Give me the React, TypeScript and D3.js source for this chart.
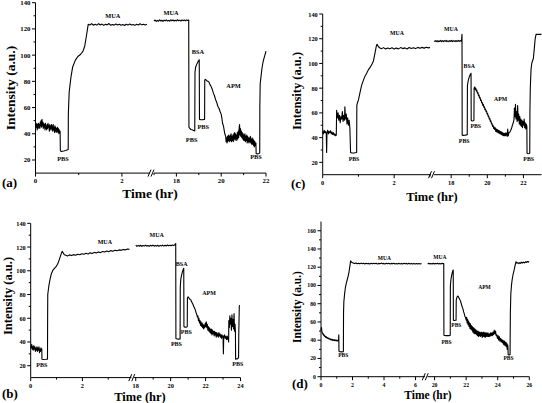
import * as d3 from 'd3';

type Pt = [number, number];
type Note = [string, number, number]; // text, time (hr), intensity

// ---- (a) ----
const aLeft: Pt[] = [
  [0, 44], [0.01, 47], [0.02, 45], [0.03, 48], [0.04, 43], [0.05, 47], [0.06, 44], [0.07, 48], [0.08, 45], [0.09, 47],
  [0.1, 44], [0.11, 49], [0.12, 46], [0.13, 50], [0.14, 45], [0.15, 51], [0.16, 46], [0.17, 49], [0.18, 44], [0.19, 48],
  [0.2, 45], [0.21, 47], [0.22, 43], [0.23, 48], [0.24, 44], [0.25, 46], [0.26, 43], [0.27, 47], [0.28, 44], [0.29, 48],
  [0.3, 45], [0.31, 46], [0.32, 42], [0.33, 47], [0.34, 43], [0.35, 46], [0.36, 44], [0.37, 47], [0.38, 43], [0.39, 46],
  [0.4, 42], [0.41, 47], [0.42, 43], [0.43, 45], [0.44, 41], [0.45, 46], [0.46, 42], [0.47, 45], [0.48, 41], [0.49, 44],
  [0.5, 42], [0.51, 45], [0.52, 41], [0.53, 44], [0.54, 40], [0.55, 43], [0.56, 41], [0.57, 42],
  [0.575, 27], [0.6, 26.5], [0.65, 26.8], [0.7, 27.3], [0.757, 28],
  [0.76, 55], [0.78, 72], [0.82, 83], [0.86, 91], [0.92, 96], [0.98, 99], [1.04, 100.5], [1.1, 103], [1.14, 107], [1.18, 115], [1.22, 123.5],
  [1.26, 123], [1.3, 124], [1.34, 122.8], [1.38, 123.6], [1.42, 122.9], [1.46, 124], [1.5, 123], [1.54, 123.7], [1.58, 122.7],
  [1.62, 123.5], [1.66, 123.1], [1.7, 124.1], [1.74, 122.8], [1.78, 123.4], [1.82, 122.9], [1.86, 123.8], [1.9, 123], [1.94, 123.6],
  [1.98, 122.8], [2.02, 123.3], [2.06, 122.6], [2.1, 123.5], [2.14, 122.9], [2.18, 123.8], [2.22, 123], [2.26, 123.4], [2.3, 122.7],
  [2.34, 123.5], [2.38, 123], [2.42, 123.9], [2.46, 123.1], [2.5, 123.6], [2.54, 123], [2.58, 123.5],
];
const aRight: Pt[] = [
  [17.0, 126], [17.05, 126.8], [17.1, 125.7], [17.15, 126.5], [17.2, 125.9], [17.25, 126.9], [17.3, 126], [17.35, 126.6],
  [17.4, 125.8], [17.45, 126.7], [17.5, 126.1], [17.55, 126.9], [17.6, 126], [17.65, 126.5], [17.7, 125.9], [17.75, 127],
  [17.8, 126.2], [17.85, 126.8], [17.9, 126], [17.95, 126.6], [18.0, 126.1], [18.05, 127], [18.1, 126.2], [18.15, 126.7],
  [18.2, 126], [18.25, 126.9], [18.3, 126.3], [18.35, 126.8], [18.4, 126.1], [18.45, 126.9], [18.5, 126.4], [18.55, 126.8],
  [18.56, 45], [18.6, 44], [18.65, 43.3], [18.7, 43], [18.75, 42.6], [18.8, 42.3], [18.82, 42.2],
  [18.83, 87], [18.86, 91], [18.92, 93.5], [18.98, 95.5], [19.02, 96.5], [19.03, 51], [19.1, 50.7], [19.18, 50.8], [19.26, 51],
  [19.265, 81], [19.3, 81.5], [19.35, 80.5], [19.4, 80], [19.45, 79.5], [19.5, 77.5], [19.55, 76], [19.6, 74], [19.65, 71],
  [19.7, 69], [19.75, 66], [19.8, 64], [19.85, 61], [19.9, 59.5], [19.95, 57], [20.0, 55], [20.03, 52], [20.06, 48], [20.1, 46],
  [20.13, 43], [20.16, 40], [20.2, 38], [20.22, 34], [20.24, 37], [20.26, 33], [20.28, 38], [20.3, 34], [20.32, 39], [20.34, 35],
  [20.36, 38], [20.38, 34], [20.4, 39], [20.42, 35], [20.44, 40], [20.46, 34], [20.48, 38], [20.5, 35], [20.52, 39], [20.54, 34],
  [20.56, 40], [20.58, 36], [20.6, 41], [20.62, 35], [20.64, 40], [20.66, 36], [20.68, 39], [20.7, 35], [20.72, 41], [20.74, 36],
  [20.76, 42], [20.78, 37], [20.8, 44], [20.82, 47], [20.84, 39], [20.86, 44], [20.88, 38], [20.9, 42], [20.92, 37], [20.94, 41],
  [20.96, 36], [20.98, 40], [21.0, 35], [21.02, 39], [21.04, 35], [21.06, 40], [21.08, 34], [21.1, 38], [21.12, 35], [21.14, 39],
  [21.16, 33], [21.18, 38], [21.2, 34], [21.22, 37], [21.24, 33], [21.26, 37], [21.28, 34], [21.3, 38], [21.32, 33], [21.34, 36],
  [21.36, 32], [21.38, 37], [21.4, 32], [21.42, 36], [21.44, 31], [21.46, 35], [21.48, 30], [21.5, 34], [21.52, 31], [21.55, 33],
  [21.56, 25], [21.62, 24.6], [21.68, 25], [21.72, 25.3],
  [21.725, 60], [21.74, 78], [21.78, 84], [21.82, 90], [21.86, 94], [21.9, 97], [21.95, 100], [22.0, 103],
];
const aNotes: Note[] = [
  ['MUA', 1.79, 130.6], ['MUA', 17.76, 132.4], ['BSA', 18.96, 102.5], ['APM', 20.55, 76.8],
  ['PBS', 0.635, 21.5], ['PBS', 18.68, 36], ['PBS', 19.2, 45.9], ['PBS', 21.55, 23],
];

// ---- (b) ----
const bLeft: Pt[] = [
  [0, 37], [0.02, 35], [0.04, 38], [0.06, 34], [0.08, 36], [0.1, 33], [0.12, 37], [0.14, 34], [0.16, 36], [0.18, 32],
  [0.2, 35], [0.22, 33], [0.24, 36], [0.26, 32], [0.28, 35], [0.3, 33], [0.32, 36], [0.34, 31], [0.36, 34], [0.38, 32],
  [0.4, 35], [0.42, 33], [0.43, 34],
  [0.435, 25.5], [0.5, 25.3], [0.58, 25.4], [0.65, 25.6],
  [0.655, 60], [0.66, 80], [0.7, 87], [0.75, 93], [0.8, 97.5], [0.86, 100.5], [0.92, 102], [0.98, 103.5], [1.04, 105.5],
  [1.1, 109], [1.16, 113], [1.22, 116.5], [1.26, 115], [1.3, 113.5], [1.36, 113], [1.42, 112.5],
  [1.5, 113.4], [1.58, 112.8], [1.66, 113.6], [1.74, 113.1], [1.82, 114], [1.9, 113.5], [1.98, 114.3], [2.06, 113.9],
  [2.14, 114.8], [2.22, 114.2], [2.3, 115.1], [2.38, 114.6], [2.46, 115.5], [2.54, 115], [2.62, 115.9], [2.7, 115.3],
  [2.78, 116.2], [2.86, 115.8], [2.94, 116.6], [3.02, 116.1], [3.1, 117], [3.18, 116.5], [3.26, 117.3], [3.34, 116.9],
  [3.42, 117.6], [3.5, 117.2], [3.58, 118], [3.66, 117.6], [3.74, 118.3], [3.82, 118],
];
const bRight: Pt[] = [
  [18.0, 121.6], [18.07, 120.6], [18.14, 121.4], [18.21, 120.7], [18.28, 121.5], [18.35, 120.6], [18.42, 121.3], [18.49, 120.8],
  [18.56, 121.6], [18.63, 120.7], [18.7, 121.4], [18.77, 120.6], [18.84, 121.5], [18.91, 120.9], [18.98, 121.6], [19.05, 120.7],
  [19.12, 121.3], [19.19, 120.8], [19.26, 121.5], [19.33, 120.6], [19.4, 121.4], [19.47, 120.9], [19.54, 121.6], [19.61, 120.8],
  [19.68, 121.5], [19.75, 120.9], [19.82, 121.7], [19.89, 121], [19.96, 121.6], [20.03, 121.1], [20.1, 121.8], [20.17, 121.2],
  [20.24, 121.9], [20.29, 123],
  [20.3, 43], [20.38, 42.5], [20.46, 42.4], [20.54, 42.6],
  [20.55, 86], [20.58, 93], [20.63, 96.5], [20.68, 99.5], [20.73, 101.5], [20.75, 102],
  [20.76, 53], [20.82, 52.4], [20.88, 52.5], [20.95, 52.8],
  [20.96, 77], [21.0, 78], [21.05, 77], [21.1, 76], [21.15, 75.5], [21.2, 74], [21.25, 72.5], [21.3, 71], [21.35, 69],
  [21.4, 67.5], [21.45, 65], [21.5, 63], [21.53, 61], [21.56, 62], [21.59, 58], [21.62, 60], [21.65, 56], [21.68, 58],
  [21.71, 54], [21.74, 57], [21.77, 53], [21.8, 56], [21.83, 52], [21.86, 55], [21.89, 51], [21.92, 54], [21.95, 52],
  [21.98, 56], [22.01, 53], [22.04, 57], [22.07, 52], [22.1, 55], [22.13, 50], [22.16, 53], [22.19, 49], [22.22, 52],
  [22.25, 48], [22.28, 51], [22.31, 47], [22.34, 51], [22.37, 46], [22.4, 50], [22.43, 47], [22.46, 49], [22.49, 45],
  [22.52, 49], [22.55, 46], [22.58, 48], [22.61, 44], [22.64, 48], [22.67, 45], [22.7, 47], [22.73, 44], [22.76, 48],
  [22.79, 45], [22.82, 47], [22.85, 44], [22.88, 46], [22.91, 43], [22.94, 46], [22.97, 44], [23.0, 45], [23.02, 30],
  [23.04, 44], [23.08, 46], [23.12, 43], [23.16, 45], [23.2, 42], [23.24, 45], [23.28, 42], [23.31, 44], [23.32, 40],
  [23.33, 58], [23.36, 52], [23.39, 62], [23.42, 55], [23.45, 60], [23.48, 50], [23.51, 63], [23.54, 53], [23.57, 59],
  [23.6, 51], [23.63, 64], [23.66, 49], [23.69, 55], [23.71, 48],
  [23.72, 25.5], [23.78, 25.8], [23.84, 26], [23.89, 27],
  [23.9, 45], [23.93, 70], [23.95, 71],
];
const bNotes: Note[] = [
  ['MUA', 2.87, 124], ['MUA', 19.2, 129.8], ['BSA', 20.63, 106], ['APM', 22.2, 81],
  ['PBS', 0.43, 20.6], ['PBS', 20.33, 38.5], ['PBS', 20.9, 48.2], ['PBS', 23.85, 21.3],
];

// ---- (c) ----
const cLeft: Pt[] = [
  [0, 45], [0.02, 43], [0.04, 46], [0.06, 44], [0.08, 45], [0.1, 43], [0.11, 28], [0.12, 44], [0.14, 46], [0.16, 43],
  [0.18, 45], [0.2, 44], [0.22, 45.5], [0.24, 43], [0.26, 44.5], [0.28, 42.5], [0.3, 44], [0.32, 42], [0.34, 43],
  [0.36, 41.5], [0.38, 42],
  [0.39, 62], [0.41, 56], [0.43, 60], [0.45, 54], [0.47, 58], [0.49, 52], [0.51, 57], [0.53, 55], [0.55, 61], [0.57, 53],
  [0.59, 58], [0.61, 54], [0.62, 65], [0.64, 55], [0.66, 59], [0.68, 51], [0.7, 56], [0.72, 50], [0.74, 54], [0.76, 48],
  [0.78, 28], [0.82, 27.5], [0.88, 27.6], [0.95, 27.9],
  [0.955, 66], [0.97, 68], [1.0, 70.5], [1.04, 76], [1.09, 82.5], [1.14, 86.5], [1.18, 89.5], [1.23, 92], [1.28, 95],
  [1.33, 97], [1.38, 99.5], [1.42, 102], [1.46, 108], [1.5, 114], [1.52, 115.5], [1.56, 113.5], [1.6, 112.5], [1.65, 112],
  [1.7, 112.8], [1.76, 111.7], [1.82, 112.5], [1.88, 111.9], [1.94, 112.7], [2.0, 111.6], [2.06, 112.4], [2.12, 111.8],
  [2.18, 112.8], [2.24, 112], [2.3, 112.6], [2.36, 111.7], [2.42, 112.9], [2.48, 112.1], [2.54, 112.7], [2.6, 112],
  [2.66, 113], [2.72, 112.3], [2.78, 113], [2.84, 112.4], [2.9, 113.1], [2.96, 112.6], [3.0, 113],
];
const cRight: Pt[] = [
  [17.07, 117.6], [17.12, 118.5], [17.17, 117.7], [17.22, 118.4], [17.27, 117.5], [17.32, 118.3], [17.37, 117.8],
  [17.42, 118.6], [17.47, 117.6], [17.52, 118.4], [17.57, 117.7], [17.62, 118.5], [17.67, 117.9], [17.72, 118.6],
  [17.77, 117.7], [17.82, 118.3], [17.87, 117.6], [17.92, 118.5], [17.97, 117.8], [18.02, 118.6], [18.07, 117.7],
  [18.12, 118.4], [18.17, 117.8], [18.22, 118.5], [18.27, 117.6], [18.32, 118.4], [18.37, 117.8], [18.42, 118.6],
  [18.47, 117.9], [18.52, 118.5], [18.57, 118], [18.6, 123.5],
  [18.61, 42], [18.68, 41.8], [18.76, 41.9], [18.85, 42.2], [18.89, 42.3],
  [18.9, 82], [18.93, 85], [18.97, 87.5], [19.01, 89.5], [19.05, 90.8], [19.1, 92],
  [19.11, 54], [19.16, 53.5], [19.21, 53.6], [19.26, 53.8],
  [19.27, 80], [19.3, 81], [19.33, 79], [19.36, 80], [19.39, 77.5], [19.42, 78.5], [19.45, 76], [19.48, 76.5], [19.51, 74],
  [19.54, 74.5], [19.57, 72], [19.6, 72.5], [19.63, 70], [19.66, 70.5], [19.69, 68], [19.72, 68.5], [19.75, 66], [19.78, 67],
  [19.81, 64.5], [19.84, 65], [19.87, 62.5], [19.9, 63], [19.93, 61], [19.96, 61.5], [19.99, 59], [20.02, 59.5], [20.05, 57],
  [20.08, 57.5], [20.11, 55], [20.14, 55.5], [20.17, 53], [20.2, 53.5], [20.23, 51], [20.26, 51.5], [20.29, 49],
  [20.32, 50], [20.35, 47.5], [20.38, 48.5], [20.41, 46.5], [20.44, 48], [20.47, 45], [20.5, 47], [20.53, 44.5],
  [20.56, 46.5], [20.59, 44], [20.62, 46], [20.65, 43.5], [20.68, 45.5], [20.71, 43], [20.74, 45], [20.77, 42.5],
  [20.8, 44.5], [20.83, 42], [20.86, 44], [20.89, 41.5], [20.92, 43.5], [20.95, 41.5], [20.98, 43.5], [21.01, 41.5],
  [21.04, 44], [21.07, 42], [21.1, 41], [21.13, 47], [21.16, 41.5], [21.2, 44], [21.25, 44.5], [21.3, 46], [21.35, 48],
  [21.4, 50.5], [21.44, 52], [21.48, 55],
  [21.5, 64], [21.53, 57], [21.56, 67], [21.59, 55], [21.62, 61], [21.65, 53], [21.68, 66], [21.71, 54], [21.74, 59],
  [21.77, 51], [21.8, 57], [21.83, 50], [21.86, 55], [21.89, 49], [21.92, 54], [21.95, 48], [21.98, 53], [22.01, 50],
  [22.04, 55], [22.07, 48], [22.1, 52], [22.13, 47], [22.16, 51], [22.19, 49],
  [22.2, 27.3], [22.26, 27], [22.32, 27.2], [22.35, 27.5],
  [22.36, 62], [22.38, 80], [22.42, 95], [22.46, 100], [22.5, 102], [22.55, 104], [22.6, 112], [22.65, 120], [22.7, 123.5],
  [22.78, 123.6], [22.86, 123.5], [22.94, 123.6], [23.0, 123.5],
];
const cNotes: Note[] = [
  ['MUA', 2.08, 124.6], ['MUA', 17.99, 127.7], ['BSA', 19.0, 97.9], ['APM', 20.74, 71],
  ['PBS', 0.876, 22.6], ['PBS', 18.72, 37.5], ['PBS', 19.36, 49.4], ['PBS', 22.29, 22.6],
];

// ---- (d) ----
const dLeft: Pt[] = [
  [0, 51], [0.03, 54], [0.06, 49], [0.09, 48], [0.12, 46.5], [0.15, 47], [0.18, 45], [0.21, 45.5], [0.24, 44], [0.27, 44.5],
  [0.3, 43], [0.33, 44], [0.36, 42.5], [0.39, 43], [0.42, 42], [0.45, 42.5], [0.48, 41.5], [0.51, 42], [0.54, 41],
  [0.57, 41.5], [0.6, 40.5], [0.63, 41.2], [0.66, 40.2], [0.69, 41], [0.72, 40], [0.75, 40.6], [0.78, 39.8], [0.81, 40.5],
  [0.84, 39.6], [0.87, 40.3], [0.9, 39.5], [0.93, 40.2], [0.96, 39.4], [0.99, 40], [1.02, 39.2], [1.05, 39.8], [1.08, 39.3],
  [1.11, 39.6], [1.13, 46], [1.14, 28],
  [1.2, 27.3], [1.3, 27.2], [1.42, 27.5],
  [1.43, 70], [1.45, 82], [1.5, 91], [1.55, 98], [1.6, 102], [1.66, 106], [1.72, 110], [1.78, 115], [1.83, 121], [1.88, 127],
  [1.94, 125.5], [2.0, 125], [2.06, 124.5],
  [2.14, 124], [2.22, 124.6], [2.3, 123.8], [2.38, 124.4], [2.46, 123.7], [2.54, 124.5], [2.62, 123.9], [2.7, 124.3],
  [2.78, 123.6], [2.86, 124.4], [2.94, 123.8], [3.02, 124.2], [3.1, 123.6], [3.18, 124.4], [3.26, 123.7], [3.34, 124.3],
  [3.42, 123.8], [3.5, 124.4], [3.58, 123.6], [3.66, 124.2], [3.74, 123.7], [3.82, 124.5], [3.9, 123.8], [3.98, 124.2],
  [4.06, 123.6], [4.14, 124.4], [4.22, 123.7], [4.3, 124.3], [4.38, 123.6], [4.46, 124.2], [4.54, 123.7], [4.62, 124.4],
  [4.7, 123.6], [4.78, 124.1], [4.86, 123.5], [4.94, 124.3], [5.02, 123.6], [5.1, 124.2], [5.18, 123.5], [5.26, 124.3],
  [5.34, 123.7], [5.42, 124.2], [5.5, 123.6], [5.58, 124.3], [5.66, 123.5], [5.74, 124.1], [5.82, 123.6], [5.9, 124.2],
  [5.98, 123.5], [6.06, 124.1], [6.14, 123.6], [6.22, 124.2], [6.3, 123.5], [6.38, 124],
];
const dRight: Pt[] = [
  [19.56, 123.6], [19.63, 124.3], [19.7, 123.5], [19.77, 124.2], [19.84, 123.6], [19.91, 124.4], [19.98, 123.5],
  [20.05, 124.2], [20.12, 123.7], [20.19, 124.3], [20.26, 123.5], [20.33, 124.2], [20.4, 123.6], [20.47, 124.3],
  [20.54, 123.7], [20.58, 124],
  [20.59, 45.5], [20.7, 45], [20.8, 45.2], [20.9, 45], [20.99, 45.3],
  [21.0, 100], [21.03, 106], [21.07, 110], [21.11, 113.5], [21.15, 116], [21.18, 117],
  [21.19, 62], [21.25, 61.5], [21.31, 61.8], [21.36, 62],
  [21.37, 84], [21.4, 86], [21.44, 88], [21.48, 88.5], [21.52, 87], [21.56, 86], [21.6, 84.5], [21.64, 83], [21.68, 80.5],
  [21.72, 78], [21.76, 76], [21.8, 74], [21.84, 71], [21.88, 69], [21.92, 66], [21.96, 65],
  [22.0, 62], [22.03, 65], [22.06, 59], [22.09, 63], [22.12, 57], [22.15, 61], [22.18, 55], [22.21, 59], [22.24, 53],
  [22.27, 58], [22.3, 52], [22.33, 56], [22.36, 51], [22.39, 55], [22.42, 49], [22.45, 54], [22.48, 48], [22.51, 53],
  [22.54, 47], [22.57, 52], [22.6, 47], [22.63, 51], [22.66, 46], [22.69, 50], [22.72, 45], [22.75, 50], [22.78, 44],
  [22.81, 49], [22.84, 45], [22.87, 49], [22.9, 44], [22.93, 48], [22.96, 45], [22.99, 49], [23.02, 43], [23.05, 48],
  [23.08, 44], [23.11, 49], [23.14, 44], [23.17, 48], [23.2, 43], [23.23, 48], [23.26, 44], [23.3, 48], [23.34, 44],
  [23.38, 48], [23.42, 44], [23.46, 47], [23.5, 44], [23.54, 48], [23.58, 45], [23.62, 48], [23.66, 45], [23.7, 49],
  [23.74, 46], [23.78, 51], [23.82, 47], [23.86, 50], [23.9, 45], [23.94, 46], [23.98, 42], [24.02, 45], [24.06, 40],
  [24.1, 44], [24.14, 39], [24.18, 42], [24.22, 38], [24.26, 41], [24.3, 37], [24.34, 40], [24.38, 35], [24.42, 39],
  [24.46, 34], [24.5, 38], [24.54, 33], [24.57, 37], [24.6, 30], [24.63, 35], [24.65, 32],
  [24.66, 24], [24.72, 23.8], [24.78, 24.2],
  [24.8, 70], [24.83, 91], [24.87, 100], [24.91, 106], [24.97, 112], [25.04, 117], [25.1, 122], [25.16, 126], [25.22, 124.5],
  [25.28, 125], [25.34, 123.8], [25.4, 125.2], [25.46, 124.3], [25.52, 125.5], [25.58, 124.6], [25.64, 125.6], [25.7, 124.8],
  [25.76, 126], [25.82, 125.2], [25.88, 126.3], [25.94, 125.5], [25.98, 126.5],
];
const dNotes: Note[] = [
  ['MUA', 4.02, 130], ['MUA', 20.33, 131.4], ['APM', 23.16, 98.3],
  ['PBS', 1.41, 23.4], ['PBS', 20.75, 38.4], ['PBS', 21.38, 56.3], ['PBS', 24.68, 20.5],
];

const yTicks140 = [20, 40, 60, 80, 100, 120, 140];
const yMinor140 = [30, 50, 70, 90, 110, 130];
const yTicks160 = [0, 20, 40, 60, 80, 100, 120, 140, 160];
const yMinor160 = [10, 30, 50, 70, 90, 110, 130, 150];

const FONT = '"Liberation Serif", "Times New Roman", serif';

interface PanelSpec {
  tag: string;
  left: Pt[];
  right: Pt[];
  notes: Note[];
  yDomain: [number, number];
  yRange: [number, number];
  yMajor: number[];
  yMinor: number[];
  lDomain: [number, number];
  lRange: [number, number];
  lMajor: number[];
  lMinor: number[];
  rDomain: [number, number];
  rRange: [number, number];
  rMajor: number[];
  rMinor: number[];
  tickSize: number;
  noteSize: number;
  titleSize: number;
  xTitle: [number, number];
  yTitle: [number, number];
  tagPos: [number, number];
}

const panels: PanelSpec[] = [
  {
    tag: '(a)', left: aLeft, right: aRight, notes: aNotes,
    yDomain: [10, 140], yRange: [173.1, 2.7], yMajor: yTicks140, yMinor: yMinor140,
    lDomain: [0, 2.65], lRange: [35.5, 150], lMajor: [0, 2], lMinor: [1],
    rDomain: [17, 22], rRange: [154, 266], rMajor: [18, 20, 22], rMinor: [17, 19, 21],
    tickSize: 6.8, noteSize: 6.3, titleSize: 13.5, xTitle: [150, 198], yTitle: [10, 88], tagPos: [2, 187],
  },
  {
    tag: '(b)', left: bLeft, right: bRight, notes: bNotes,
    yDomain: [10, 140], yRange: [377.6, 223.3], yMajor: yTicks140, yMinor: yMinor140,
    lDomain: [0, 3.9], lRange: [30.7, 131.5], lMajor: [0, 2], lMinor: [1, 3],
    rDomain: [17.9, 24], rRange: [134, 240.5], rMajor: [18, 20, 22, 24], rMinor: [19, 21, 23],
    tickSize: 6.3, noteSize: 6, titleSize: 12.5, xTitle: [140, 401], yTitle: [8, 296], tagPos: [2, 398],
  },
  {
    tag: '(c)', left: cLeft, right: cRight, notes: cNotes,
    yDomain: [10, 140], yRange: [174.7, 14], yMajor: yTicks140, yMinor: yMinor140,
    lDomain: [0, 3.03], lRange: [322.7, 431], lMajor: [0, 2], lMinor: [1, 3],
    rDomain: [17.05, 23], rRange: [434, 541.5], rMajor: [18, 20, 22], rMinor: [19, 21],
    tickSize: 6.3, noteSize: 5.8, titleSize: 12.5, xTitle: [432, 201], yTitle: [297, 91], tagPos: [291, 188],
  },
  {
    tag: '(d)', left: dLeft, right: dRight, notes: dNotes,
    yDomain: [0, 170], yRange: [376.7, 221.6], yMajor: yTicks160, yMinor: yMinor160,
    lDomain: [0, 6.6], lRange: [321, 425], lMajor: [0, 2, 4, 6], lMinor: [1, 3, 5],
    rDomain: [19.55, 26], rRange: [427.5, 529.3], rMajor: [20, 22, 24, 26], rMinor: [21, 23, 25],
    tickSize: 5.8, noteSize: 5.5, titleSize: 11.5, xTitle: [428, 399], yTitle: [297, 307], tagPos: [292, 388],
  },
];

function Panel({ p }: { p: PanelSpec }) {
  const y = d3.scaleLinear().domain(p.yDomain).range(p.yRange);
  const xl = d3.scaleLinear().domain(p.lDomain).range(p.lRange);
  const xr = d3.scaleLinear().domain(p.rDomain).range(p.rRange);
  const lineL = d3.line<Pt>().x(d => xl(d[0])).y(d => y(d[1]));
  const lineR = d3.line<Pt>().x(d => xr(d[0])).y(d => y(d[1]));

  const x0 = p.lRange[0];
  const yBase = p.yRange[0];
  const yTop = p.yRange[1];
  const brk = (p.lRange[1] + p.rRange[0]) / 2;
  const xOf = (t: number) => (t >= p.rDomain[0] ? xr(t) : xl(t));

  const xMajor = [...p.lMajor.map(t => [t, xl(t)]), ...p.rMajor.map(t => [t, xr(t)])];
  const xMinor = [...p.lMinor.map(t => xl(t)), ...p.rMinor.map(t => xr(t))];

  return (
    <g fontFamily={FONT} fontWeight="bold" fill="#000">
      {/* axes */}
      <g stroke="#000" strokeWidth={1} fill="none">
        <line x1={x0} x2={x0} y1={yBase} y2={yTop} />
        <line x1={x0} x2={p.lRange[1]} y1={yBase} y2={yBase} />
        <line x1={p.rRange[0]} x2={p.rRange[1]} y1={yBase} y2={yBase} />
        {p.yMajor.map(v => <line key={'ym' + v} x1={x0 - 3.5} x2={x0} y1={y(v)} y2={y(v)} />)}
        {p.yMinor.map(v => <line key={'yn' + v} x1={x0 - 2} x2={x0} y1={y(v)} y2={y(v)} />)}
        {xMajor.map(([t, px]) => <line key={'xm' + t} x1={px} x2={px} y1={yBase} y2={yBase + 3.5} />)}
        {xMinor.map((px, i) => <line key={'xn' + i} x1={px} x2={px} y1={yBase} y2={yBase + 2} />)}
        {/* axis break */}
        <line x1={brk - 4} x2={brk - 1} y1={yBase + 3.5} y2={yBase - 3.5} />
        <line x1={brk - 1} x2={brk + 2} y1={yBase + 3.5} y2={yBase - 3.5} />
      </g>

      {/* tick labels */}
      {p.yMajor.map(v => (
        <text key={'yl' + v} x={x0 - 5} y={y(v)} fontSize={p.tickSize} textAnchor="end" dominantBaseline="central">{v}</text>
      ))}
      {xMajor.map(([t, px]) => (
        <text key={'xl' + t} x={px} y={yBase + 10} fontSize={p.tickSize} textAnchor="middle">{t}</text>
      ))}

      {/* traces */}
      <path d={lineL(p.left) ?? ''} fill="none" stroke="#000" strokeWidth={1.1} strokeLinejoin="round" />
      <path d={lineR(p.right) ?? ''} fill="none" stroke="#000" strokeWidth={1.1} strokeLinejoin="round" />

      {/* annotations */}
      {p.notes.map(([txt, t, v], i) => (
        <text key={'n' + i} x={xOf(t)} y={y(v)} fontSize={p.noteSize} textAnchor="middle" dominantBaseline="central">{txt}</text>
      ))}

      {/* titles */}
      <text x={p.xTitle[0]} y={p.xTitle[1]} fontSize={p.titleSize} textAnchor="middle">Time (hr)</text>
      <text transform={`translate(${p.yTitle[0]},${p.yTitle[1]}) rotate(-90)`} fontSize={p.titleSize}
        textAnchor="middle" dominantBaseline="central">Intensity (a.u.)</text>
      <text x={p.tagPos[0]} y={p.tagPos[1]} fontSize={13}>{p.tag}</text>
    </g>
  );
}

export default function App() {
  return (
    <svg width={542} height={403} style={{ position: 'absolute', left: 0, top: 0, background: '#fff' }}>
      {panels.map(p => <Panel key={p.tag} p={p} />)}
    </svg>
  );
}
